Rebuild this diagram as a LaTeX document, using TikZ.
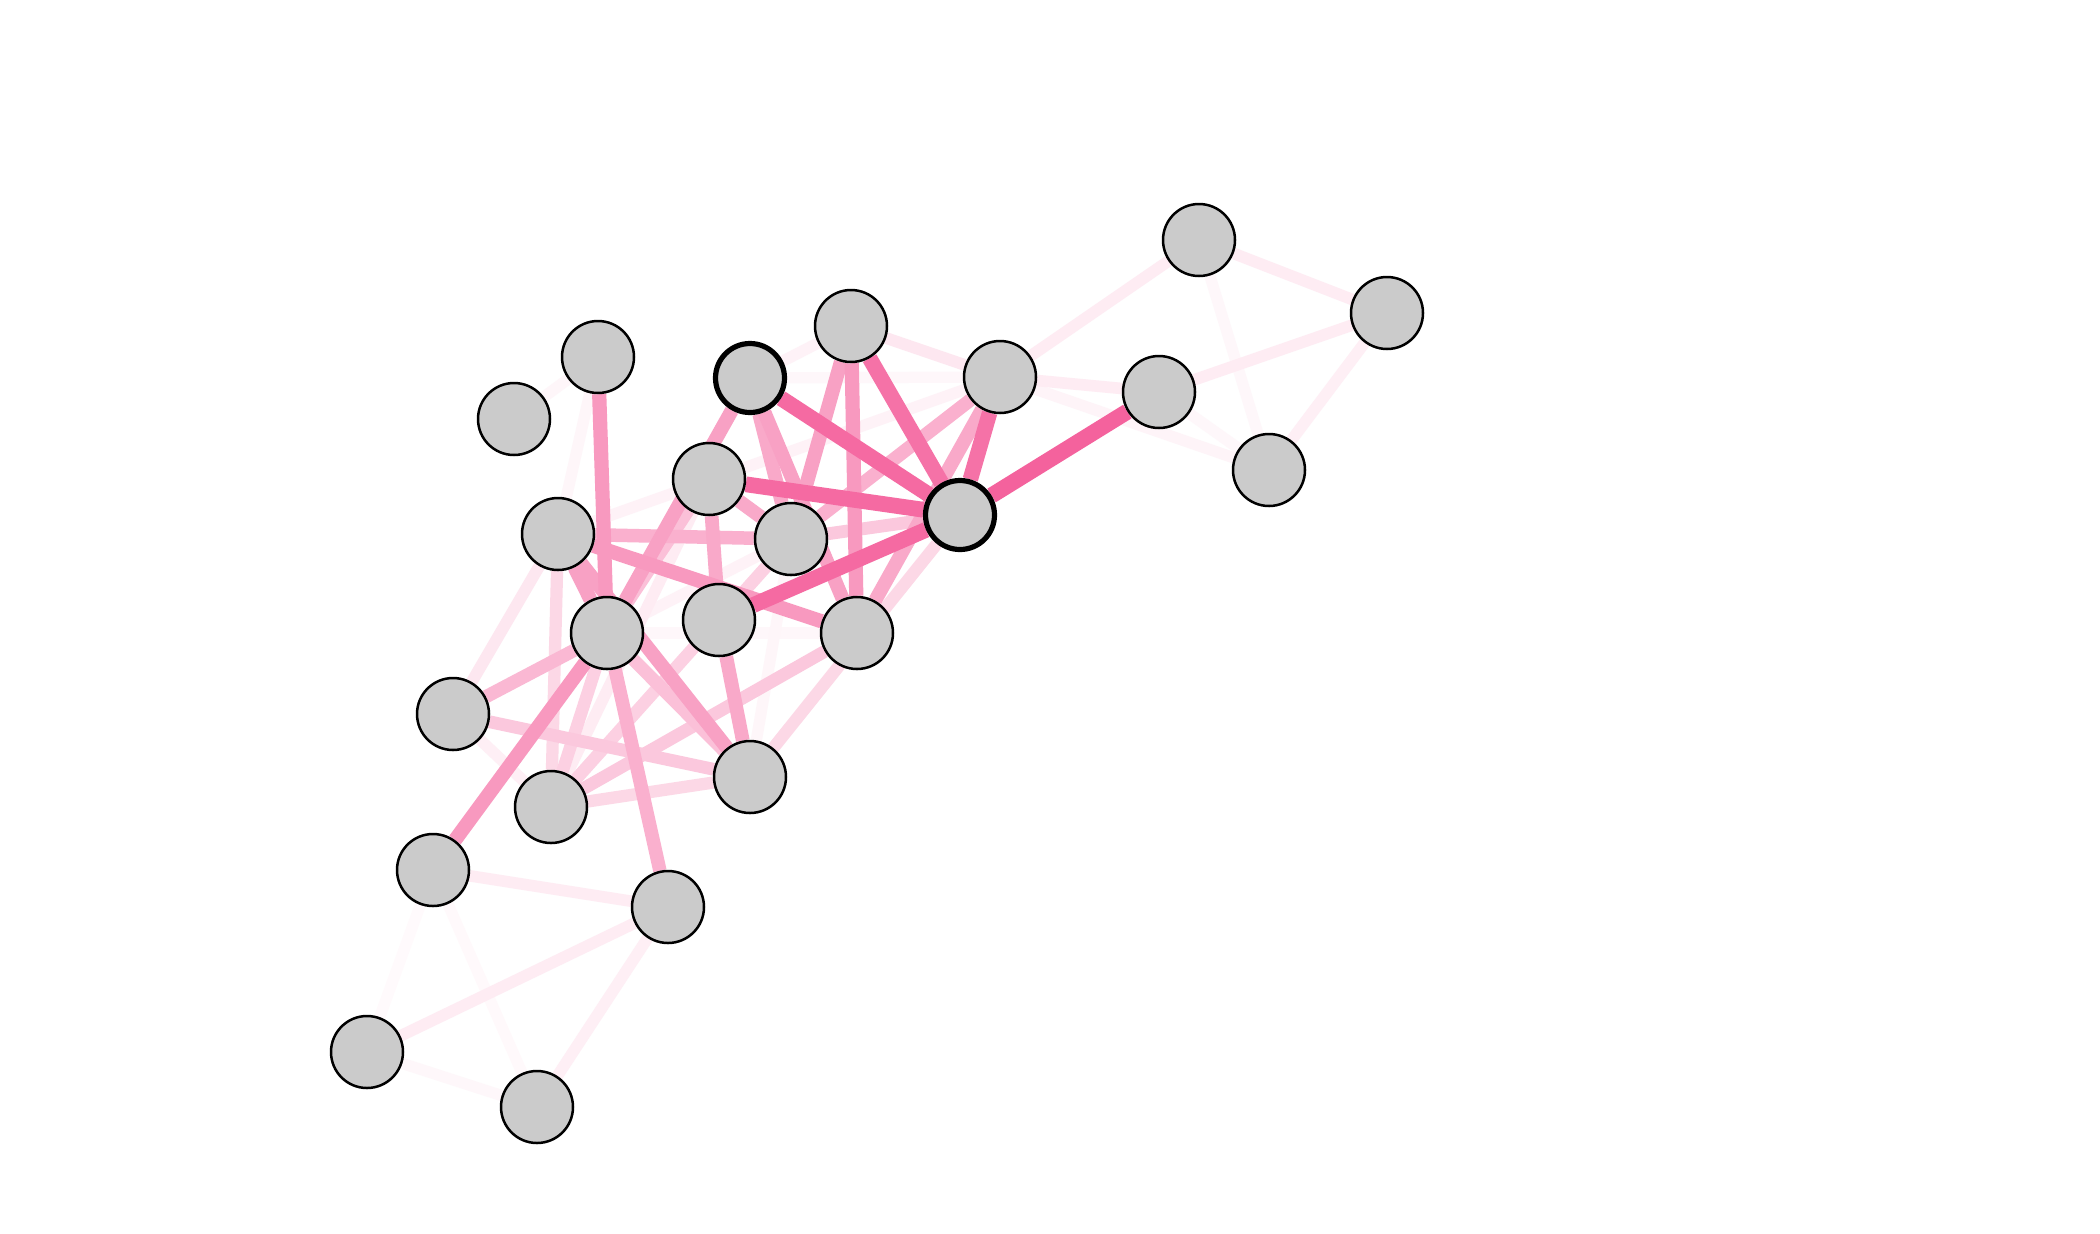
\documentclass[tikz,border=0pt]{standalone}
\usetikzlibrary{backgrounds}
\definecolor{edgebase}{HTML}{F4629D}
\definecolor{nodefill}{HTML}{CBCBCB}
\tikzset{
  nd/.style={circle,draw=black,fill=nodefill,line width=1.25pt,minimum size=36pt,inner sep=0pt},
  ndthick/.style={nd,line width=2.6pt,minimum size=34.5pt},
}
\begin{document}
\begin{tikzpicture}[x=0.5pt,y=-0.5pt]
\useasboundingbox (0,0) rectangle (2100,1233);
\node[nd] (A) at (1199,240) {};
\node[nd] (B) at (1387,313) {};
\node[nd] (C) at (851,326) {};
\node[nd] (D) at (1000,377) {};
\node[ndthick] (E) at (750,378) {};
\node[nd] (F) at (1159,392) {};
\node[nd] (G) at (598,357) {};
\node[nd] (H) at (514,419) {};
\node[nd] (I) at (1269,470) {};
\node[nd] (J) at (709,479) {};
\node[ndthick] (K) at (960,515) {};
\node[nd] (L) at (558,534) {};
\node[nd] (M) at (791,539) {};
\node[nd] (N) at (607,633) {};
\node[nd] (O) at (719,620) {};
\node[nd] (P) at (857,633) {};
\node[nd] (Q) at (453,714) {};
\node[nd] (R) at (750,777) {};
\node[nd] (S) at (551,807) {};
\node[nd] (T) at (433,870) {};
\node[nd] (U) at (668,907) {};
\node[nd] (V) at (367,1052) {};
\node[nd] (W) at (537,1107) {};
\begin{pgfonlayer}{background}
\fill[white] (0,0) rectangle (2100,1233);
\foreach \a/\b/\p in {
  T/V/3, T/W/4, A/I/5, F/I/5, E/D/5, N/P/5, V/W/5, G/L/6, G/H/6, M/R/6,
  D/I/7, E/C/8, D/L/8, N/M/8, Q/S/10, B/I/10, U/W/10,
  A/B/12, A/D/12, B/F/12, D/F/12, T/U/12, U/V/12, J/S/12,
  C/D/15, L/Q/15,
  K/R/25, S/R/25, L/S/25, M/S/30, N/S/30, K/M/35, P/S/35, Q/R/35,
  J/N/40, N/R/40, N/Q/45,
  L/M/50, D/M/50, N/U/50,
  O/R/55, J/O/55, D/P/55, E/M/55, J/M/55,
  E/N/60, L/R/60, E/P/60, C/M/60, L/N/60,
  C/P/65, G/N/65, L/P/65, T/N/65,
  C/K/90, D/K/90, E/K/95, J/K/95, K/O/95, K/F/100}
  \draw[line width={(5.5+0.025*\p)*1pt}, draw=edgebase!\p] (\a) -- (\b);
\end{pgfonlayer}
\end{tikzpicture}
\end{document}
